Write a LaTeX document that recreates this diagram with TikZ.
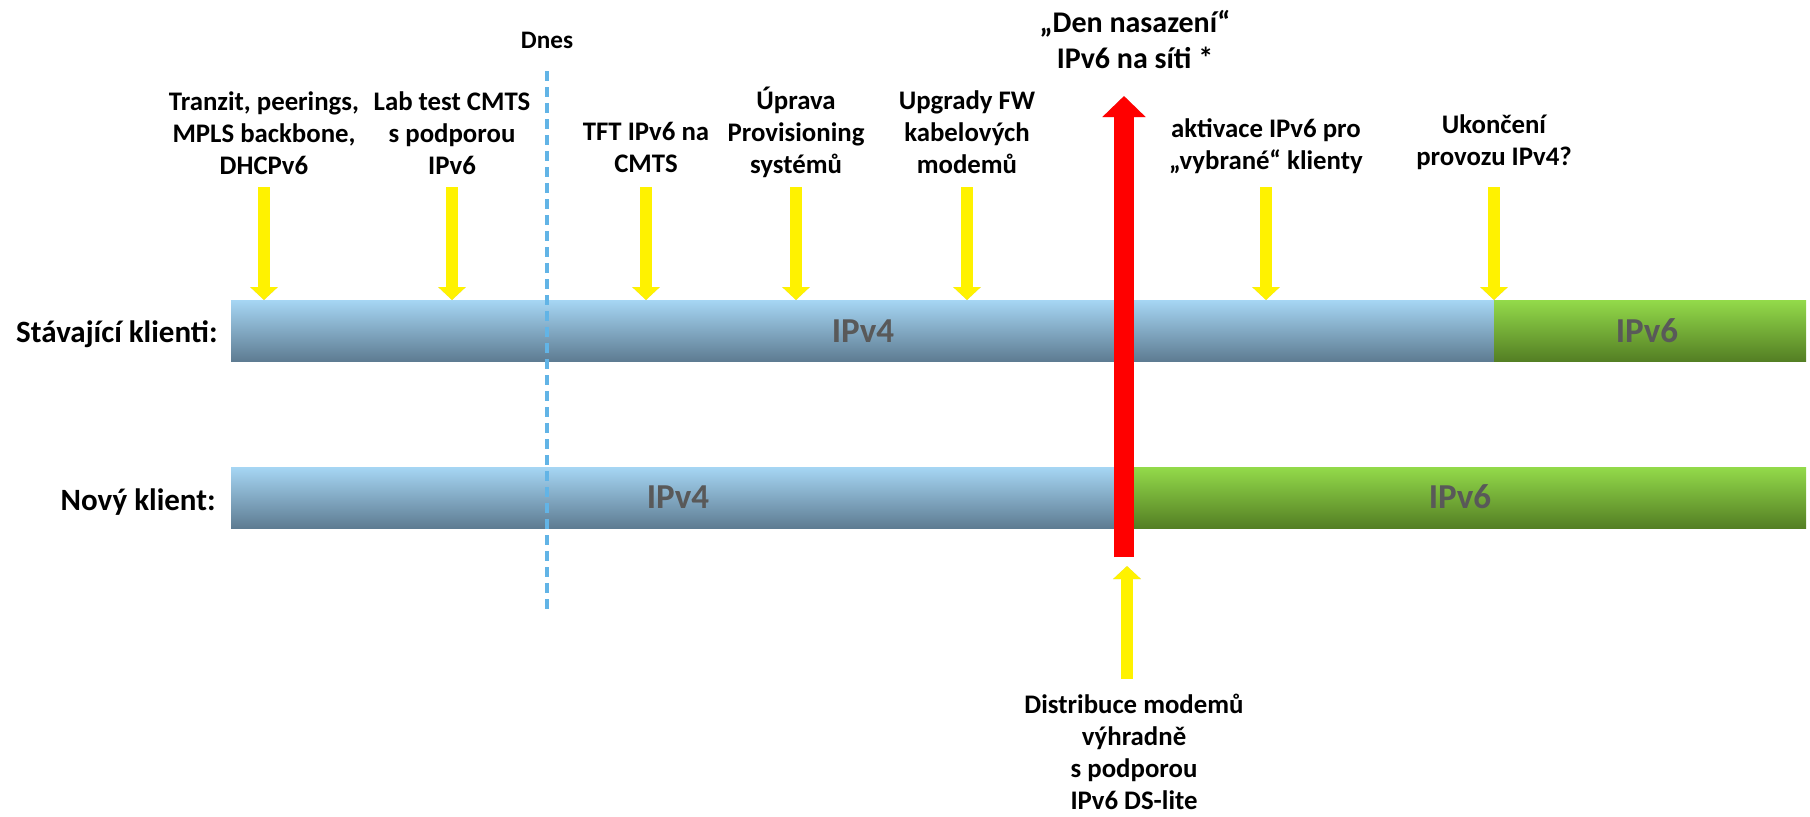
\documentclass[tikz,border=0pt]{standalone}
\usepackage{fontspec}
\setmainfont{Carlito}
\usetikzlibrary{arrows.meta}
\definecolor{blueTop}{HTML}{A6D6F4}
\definecolor{blueBot}{HTML}{5E7C92}
\definecolor{greenTop}{HTML}{93DA4A}
\definecolor{greenBot}{HTML}{547F24}
\definecolor{barText}{HTML}{595959}
\definecolor{todayLine}{HTML}{62B4E6}
\def\shadedarrow[#1](#2)(#3){\draw[#1,arrowshadow] (#2) -- (#3); \draw[#1] (#2) -- (#3);}

\begin{document}
\begin{tikzpicture}[x=0.5pt, y=-0.5pt,
    milestone/.style={font=\bfseries\fontsize{13.4pt}{16pt}\selectfont, align=center, anchor=base, inner sep=0pt},
    headline/.style={font=\bfseries\fontsize{15pt}{18pt}\selectfont, align=center, anchor=base, inner sep=0pt},
    rowlabel/.style={font=\bfseries\fontsize{15.5pt}{18pt}\selectfont, anchor=base east, inner sep=0pt},
    bartext/.style={font=\bfseries\fontsize{17.5pt}{20pt}\selectfont, text=barText, anchor=base, inner sep=0pt},
    bluebar/.style={top color=blueTop, bottom color=blueBot},
    greenbar/.style={top color=greenTop, bottom color=greenBot},
    yarrow/.style={draw=yellow, line width=6pt, -{Triangle[width=13.5pt,length=6.5pt]}},
    redarrow/.style={draw=red, line width=10pt, -{Triangle[width=21pt,length=10.5pt]}},
    arrowshadow/.style={draw=black, opacity=0.18, xshift=1.5pt, yshift=-1.5pt}]
		%%%%% START %%%%%
		\useasboundingbox (0,0) rectangle (1810,816);
		
		\path[bluebar] (231,300) rectangle (1494,361);
		\path[greenbar] (1494,300) rectangle (1806,361);
		\path[bluebar] (231,467) rectangle (1124,528);
		\path[greenbar] (1124,467) rectangle (1806,528);
		\coordinate (b1) at (0,300);
		\coordinate (top) at (0,187);
		
		\node[rowlabel] (stav) at (218,342) {Stávající klienti:};
		\node[rowlabel] (novy) at (216,510) {Nový klient:};
		\node[bartext] (v4a) at (863,342) {IPv4};
		\node[bartext] (v6a) at (1647,342) {IPv6};
		\node[bartext] (v4b) at (678,508) {IPv4};
		\node[bartext] (v6b) at (1460,508) {IPv6};
		
		\node[milestone, font=\bfseries\fontsize{12.6pt}{16pt}\selectfont] (dnes) at (547,48) {Dnes};
		\coordinate (dnestop) at (547,71);
		\coordinate (dnesend) at (547,613);
		\draw[todayLine, line width=2pt, dash pattern=on 5pt off 3pt] (dnestop) -- (dnesend);
		
		% last baselines
		\node[milestone] (t1) at (264,174) {Tranzit, peerings,\\MPLS backbone,\\DHCPv6};
		\node[milestone] (t2) at (452,174) {Lab test CMTS\\s podporou\\IPv6};
		\node[milestone] (t3) at (646,172) {TFT IPv6 na\\CMTS};
		\node[milestone] (t4) at (796,173) {Úprava\\Provisioning\\systémů};
		\node[milestone] (t5) at (967,173) {Upgrady FW\\kabelových\\modemů};
		\node[milestone] (t6) at (1266,169) {aktivace IPv6 pro\\„vybrané“ klienty};
		\node[milestone] (t7) at (1494,165) {Ukončení\\provozu IPv4?};
		
		\shadedarrow[yarrow](t1 |- top)(t1 |- b1)
		\shadedarrow[yarrow](t2 |- top)(t2 |- b1)
		\shadedarrow[yarrow](t3 |- top)(t3 |- b1)
		\shadedarrow[yarrow](t4 |- top)(t4 |- b1)
		\shadedarrow[yarrow](t5 |- top)(t5 |- b1)
		\shadedarrow[yarrow](t6 |- top)(t6 |- b1)
		\shadedarrow[yarrow](t7 |- top)(t7 |- b1)
		
		\node[headline] (den) at (1135,68) {„Den nasazení“\\IPv6 na síti *};
		\coordinate (redfoot) at (1124,557);
		\coordinate (redtip) at (1124,96);
		\shadedarrow[redarrow](redfoot)(redtip)
		
		\node[milestone] (dist) at (1134,809) {Distribuce modemů\\výhradně\\s podporou\\IPv6 DS-lite};
		\coordinate (upfoot) at (1127,679);
		\coordinate (uptip) at (1127,566);
		\shadedarrow[yarrow](upfoot)(uptip)
		%%%%% END %%%%%
\end{tikzpicture}
\end{document}
